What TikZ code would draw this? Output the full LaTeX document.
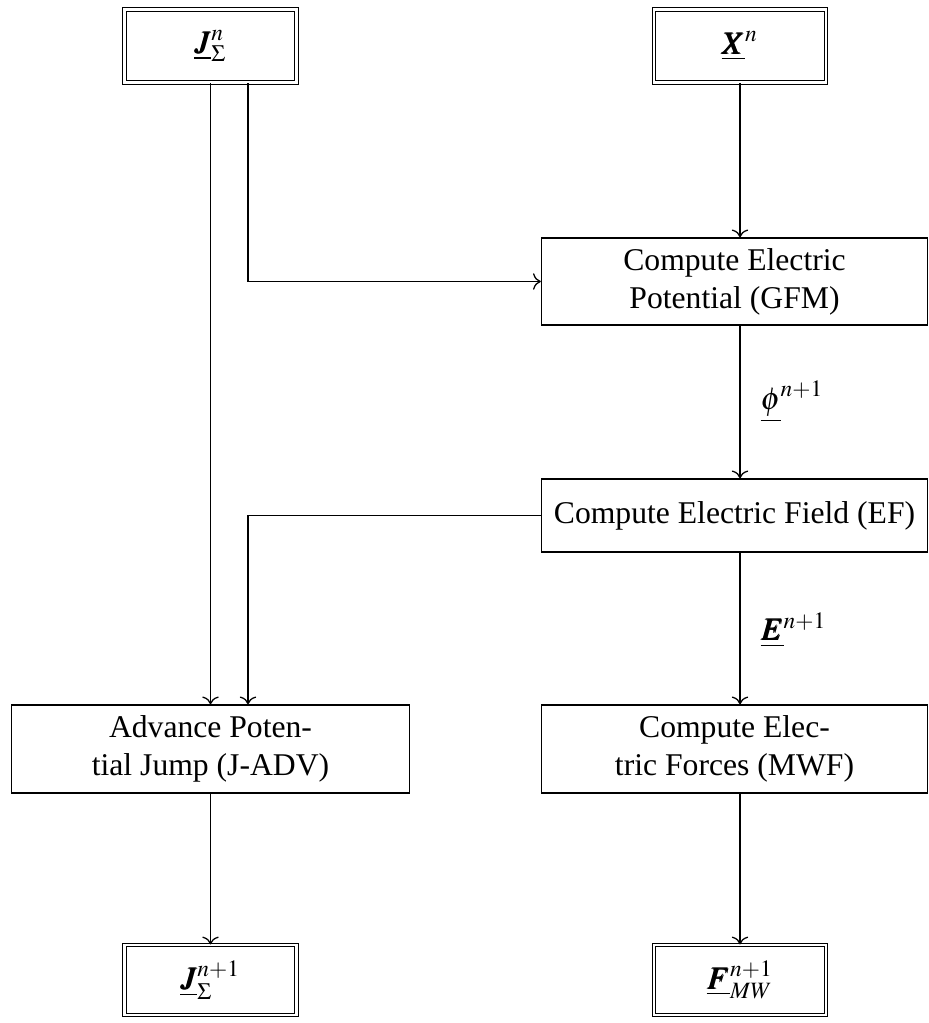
\documentclass[tikz,border=0pt]{standalone}
\usepackage{mathptmx}
\usepackage{amsmath,bm}
\usepackage{fontspec}
\setmainfont{Liberation Serif}
\usetikzlibrary{arrows.meta,calc}
\newcommand{\pxunit}{0.316pt}
\tikzset{
 flow/.style={->,line width=.4pt},
 stepbox/.style={draw,line width=.4pt,inner sep=0,align=center,font=\normalsize},
 endbox/.style={draw,double,double distance=.7pt,line width=.35pt,inner sep=0,minimum width=172*\pxunit,minimum height=73*\pxunit,font=\normalsize},
 vlabel/.style={anchor=west,inner sep=0,font=\normalsize}
}

\begin{document}
\begin{tikzpicture}[x=\pxunit,y=-\pxunit]
\path[use as bounding box] (0,0) rectangle (928,1023);
% inputs
\node[endbox] (jn) at (210.5,46) {$\underline{\bm{J}}_{\Sigma}^{n}$};
\node[endbox] (xn) at (740,46) {$\underline{\bm{X}}^{n}$};
% steps
\node[stepbox,minimum width=386*\pxunit,minimum height=87*\pxunit] (gfm) at (734.5,281.5) {Compute Electric\\Potential (GFM)};
\node[stepbox,minimum width=386*\pxunit,minimum height=73*\pxunit] (ef) at (734.5,515.5) {Compute Electric Field (EF)};
\node[stepbox,minimum width=398*\pxunit,minimum height=88*\pxunit] (adv) at (210.5,749) {Advance Poten-\\tial Jump (J-ADV)};
\node[stepbox,minimum width=386*\pxunit,minimum height=88*\pxunit] (mwf) at (734.5,749) {Compute Elec-\\tric Forces (MWF)};
% outputs
\node[endbox,minimum height=70*\pxunit] (jn1) at (210.5,980) {$\underline{\bm{J}}_{\Sigma}^{n+1}$};
\node[endbox,minimum height=70*\pxunit] (fmw) at (740,980) {$\underline{\bm{F}}_{MW}^{n+1}$};
% labels
\node[vlabel] (phil) at (760,402) {$\underline{\phi}^{n+1}$};
\node[vlabel] (el) at (760,630) {$\underline{\bm{E}}^{n+1}$};
% connectors
\draw[flow] (jn) -- (adv);
\draw[flow] ($(jn.south)+(37.5,0)$) |- (gfm.west);
\draw[flow] (xn) -- (xn |- gfm.north);
\draw[flow] (xn |- gfm.south) -- (xn |- ef.north);
\draw[flow] (ef.west) -| ($(adv.north)+(37.5,0)$);
\draw[flow] (xn |- ef.south) -- (xn |- mwf.north);
\draw[flow] (adv) -- (jn1);
\draw[flow] (xn |- mwf.south) -- (fmw);
\end{tikzpicture}
\end{document}
